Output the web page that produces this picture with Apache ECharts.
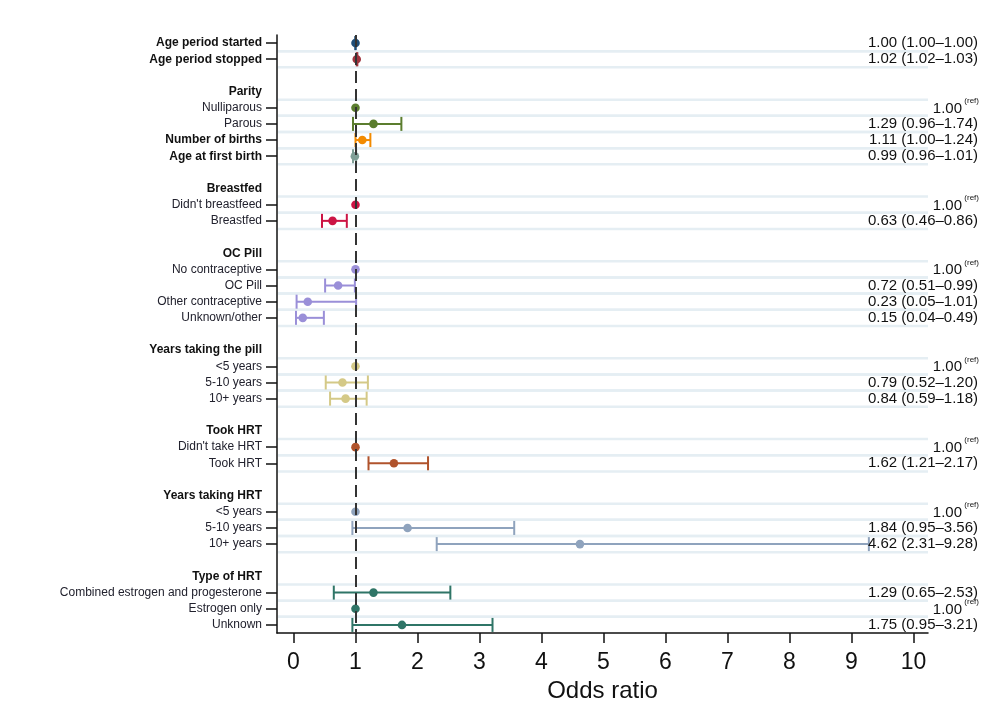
<!DOCTYPE html>
<html>
<head>
<meta charset="utf-8">
<script src="https://cdn.jsdelivr.net/npm/echarts@6/dist/echarts.min.js"></script>
<style>
html,body{margin:0;padding:0;background:#fff;}
#chart{width:998px;height:722px;}
</style>
</head>
<body>
<div id="chart"></div>
<script>
// ---- Data ----
const rowLabels = [
  'Age period started','Age period stopped','',
  'Parity','Nulliparous','Parous','Number of births','Age at first birth','',
  'Breastfed',"Didn't breastfeed",'Breastfed','',
  'OC Pill','No contraceptive','OC Pill','Other contraceptive','Unknown/other','',
  'Years taking the pill','<5 years','5-10 years','10+ years','',
  'Took HRT',"Didn't take HRT",'Took HRT','',
  'Years taking HRT','<5 years','5-10 years','10+ years','',
  'Type of HRT','Combined estrogen and progesterone','Estrogen only','Unknown'
];
// var = continuous variable (bold, with tick), head = group header (bold, no tick), lvl = level (regular, tick), gap = blank
const rowKinds = [
  'var','var','gap',
  'head','lvl','lvl','var','var','gap',
  'head','lvl','lvl','gap',
  'head','lvl','lvl','lvl','lvl','gap',
  'head','lvl','lvl','lvl','gap',
  'head','lvl','lvl','gap',
  'head','lvl','lvl','lvl','gap',
  'head','lvl','lvl','lvl'
];
const oddsRatio = [1.00,1.02,null, null,1.00,1.29,1.11,0.99,null, null,1.00,0.63,null,
  null,1.00,0.72,0.23,0.15,null, null,1.00,0.79,0.84,null, null,1.00,1.62,null,
  null,1.00,1.84,4.62,null, null,1.29,1.00,1.75];
const ciLower = [1.00,1.02,null, null,null,0.96,1.00,0.96,null, null,null,0.46,null,
  null,null,0.51,0.05,0.04,null, null,null,0.52,0.59,null, null,null,1.21,null,
  null,null,0.95,2.31,null, null,0.65,null,0.95];
const ciUpper = [1.00,1.03,null, null,null,1.74,1.24,1.01,null, null,null,0.86,null,
  null,null,0.99,1.01,0.49,null, null,null,1.20,1.18,null, null,null,2.17,null,
  null,null,3.56,9.28,null, null,2.53,null,3.21];
// reference category rows (no CI, labelled "1.00 (ref)")
const isReference = [0,0,0, 0,1,0,0,0,0, 0,1,0,0, 0,1,0,0,0,0, 0,1,0,0,0, 0,1,0,0, 0,1,0,0,0, 0,0,1,0];
// colour group per row
const colorGroup = [0,1,-1, -1,2,2,3,4,-1, -1,5,5,-1, -1,6,6,6,6,-1, -1,7,7,7,-1, -1,8,8,-1, -1,9,9,9,-1, -1,10,10,10];
const xTicks = [0,1,2,3,4,5,6,7,8,9,10];

// ---- Styles ----
const palette = ['#1f4e79','#a0353f','#5b7d2e','#f28a00','#7f9f96','#cc1444','#9a8fd8','#d4c987','#b0532c','#8fa3bd','#2f7567'];
const FONT = "'Liberation Sans', Arial, sans-serif";

const dataRows = [];
const labelRows = [];
rowLabels.forEach((l, i) => {
  if (l !== '') labelRows.push(i);
  if (oddsRatio[i] !== null) dataRows.push(i);
});

const ciData = dataRows.map(i => [
  i, oddsRatio[i],
  isReference[i] ? oddsRatio[i] : ciLower[i],
  isReference[i] ? oddsRatio[i] : ciUpper[i],
  colorGroup[i], isReference[i]
]);

function fmt(v){ return v.toFixed(2); }

const chart = echarts.init(document.getElementById('chart'), null, {renderer: 'canvas'});

const option = {
  backgroundColor: '#fff',
  animation: false,
  grid: {left: 277, right: 70, top: 35, bottom: 89, containLabel: false},
  xAxis: {
    type: 'value', min: -0.266, max: 10.234,
    name: 'Odds ratio', nameLocation: 'middle', nameGap: 43,
    nameTextStyle: {fontSize: 24, color: '#111', fontFamily: FONT},
    axisLine: {show: true, onZero: false, lineStyle: {color: '#111', width: 1.5}},
    axisTick: {show: true, length: 10, lineStyle: {color: '#111', width: 1.5}, customValues: xTicks},
    axisLabel: {fontSize: 23, color: '#111', fontFamily: FONT, margin: 18, customValues: xTicks},
    splitLine: {show: false}
  },
  yAxis: {
    type: 'value', inverse: true, min: -0.5, max: 36.5,
    axisLine: {show: true, onZero: false, lineStyle: {color: '#111', width: 1.5}},
    axisTick: {show: true, length: 11, lineStyle: {color: '#111', width: 1.5}, customValues: dataRows},
    axisLabel: {
      customValues: labelRows, margin: 15,
      formatter: function (v) {
        const i = Math.round(v);
        const t = rowLabels[i] || '';
        if (!t) return '';
        return rowKinds[i] === 'lvl' ? '{n|' + t + '}' : '{b|' + t + '}';
      },
      rich: {
        n: {fontSize: 12, color: '#22222e', fontFamily: FONT},
        b: {fontSize: 12, color: '#111', fontWeight: 'bold', fontFamily: FONT}
      }
    },
    splitLine: {show: false}
  },
  series: [
    {
      // light row band lines
      type: 'custom', z: 1, silent: true, clip: false,
      data: dataRows.map(i => [i]),
      renderItem: function (params, api) {
        const i = api.value(0);
        const cs = params.coordSys;
        const yt = api.coord([0, i - 0.5])[1];
        const yb = api.coord([0, i + 0.5])[1];
        const st = {stroke: '#e5eef3', lineWidth: 2.5};
        const ch = [];
        if (yt > cs.y + 2) ch.push({type: 'line', shape: {x1: cs.x + 1, y1: yt, x2: cs.x + cs.width, y2: yt}, style: st});
        if (yb < cs.y + cs.height - 2) ch.push({type: 'line', shape: {x1: cs.x + 1, y1: yb, x2: cs.x + cs.width, y2: yb}, style: st});
        return {type: 'group', children: ch};
      }
    },
    {
      // reference line at OR = 1
      type: 'line', z: 2, data: [], silent: true,
      markLine: {
        silent: true, symbol: 'none', label: {show: false},
        lineStyle: {color: '#333', width: 2, type: [12, 6]},
        data: [{xAxis: 1}]
      }
    },
    {
      // CI + point estimates
      type: 'custom', z: 3, clip: false,
      data: ciData,
      renderItem: function (params, api) {
        const i = api.value(0);
        const est = api.value(1), lo = api.value(2), hi = api.value(3);
        const color = palette[api.value(4)];
        const ref = api.value(5);
        const pE = api.coord([est, i]);
        const pL = api.coord([lo, i]);
        const pH = api.coord([hi, i]);
        const cap = 7;
        const children = [];
        if (!ref) {
          const st = {stroke: color, lineWidth: 2};
          children.push({type: 'line', shape: {x1: pL[0], y1: pL[1], x2: pH[0], y2: pH[1]}, style: st});
          children.push({type: 'line', shape: {x1: pL[0], y1: pL[1] - cap, x2: pL[0], y2: pL[1] + cap}, style: st});
          children.push({type: 'line', shape: {x1: pH[0], y1: pH[1] - cap, x2: pH[0], y2: pH[1] + cap}, style: st});
        }
        children.push({type: 'circle', shape: {cx: pE[0], cy: pE[1], r: 4.3}, style: {fill: color}});
        return {type: 'group', children: children};
      }
    },
    {
      // right-hand OR text
      type: 'custom', z: 4, clip: false, silent: true,
      data: ciData,
      renderItem: function (params, api) {
        const i = api.value(0);
        const est = api.value(1), lo = api.value(2), hi = api.value(3);
        const ref = api.value(5);
        const y = api.coord([0, i])[1];
        const xr = params.coordSys.x + params.coordSys.width + 50;
        if (ref) {
          return {type: 'group', children: [
            {type: 'text', style: {text: fmt(est), x: xr - 16, y: y + 1, align: 'right', verticalAlign: 'middle', fontSize: 15, fontFamily: FONT, fill: '#111'}},
            {type: 'text', style: {text: '(ref)', x: xr + 1, y: y - 7, align: 'right', verticalAlign: 'middle', fontSize: 8, fontFamily: FONT, fill: '#111'}}
          ]};
        }
        return {type: 'text', style: {
          text: fmt(est) + ' (' + fmt(lo) + '\u2013' + fmt(hi) + ')',
          x: xr, y: y, align: 'right', verticalAlign: 'middle', fontSize: 15, fontFamily: FONT, fill: '#111'
        }};
      }
    }
  ]
};
chart.setOption(option);
</script>
</body>
</html>
